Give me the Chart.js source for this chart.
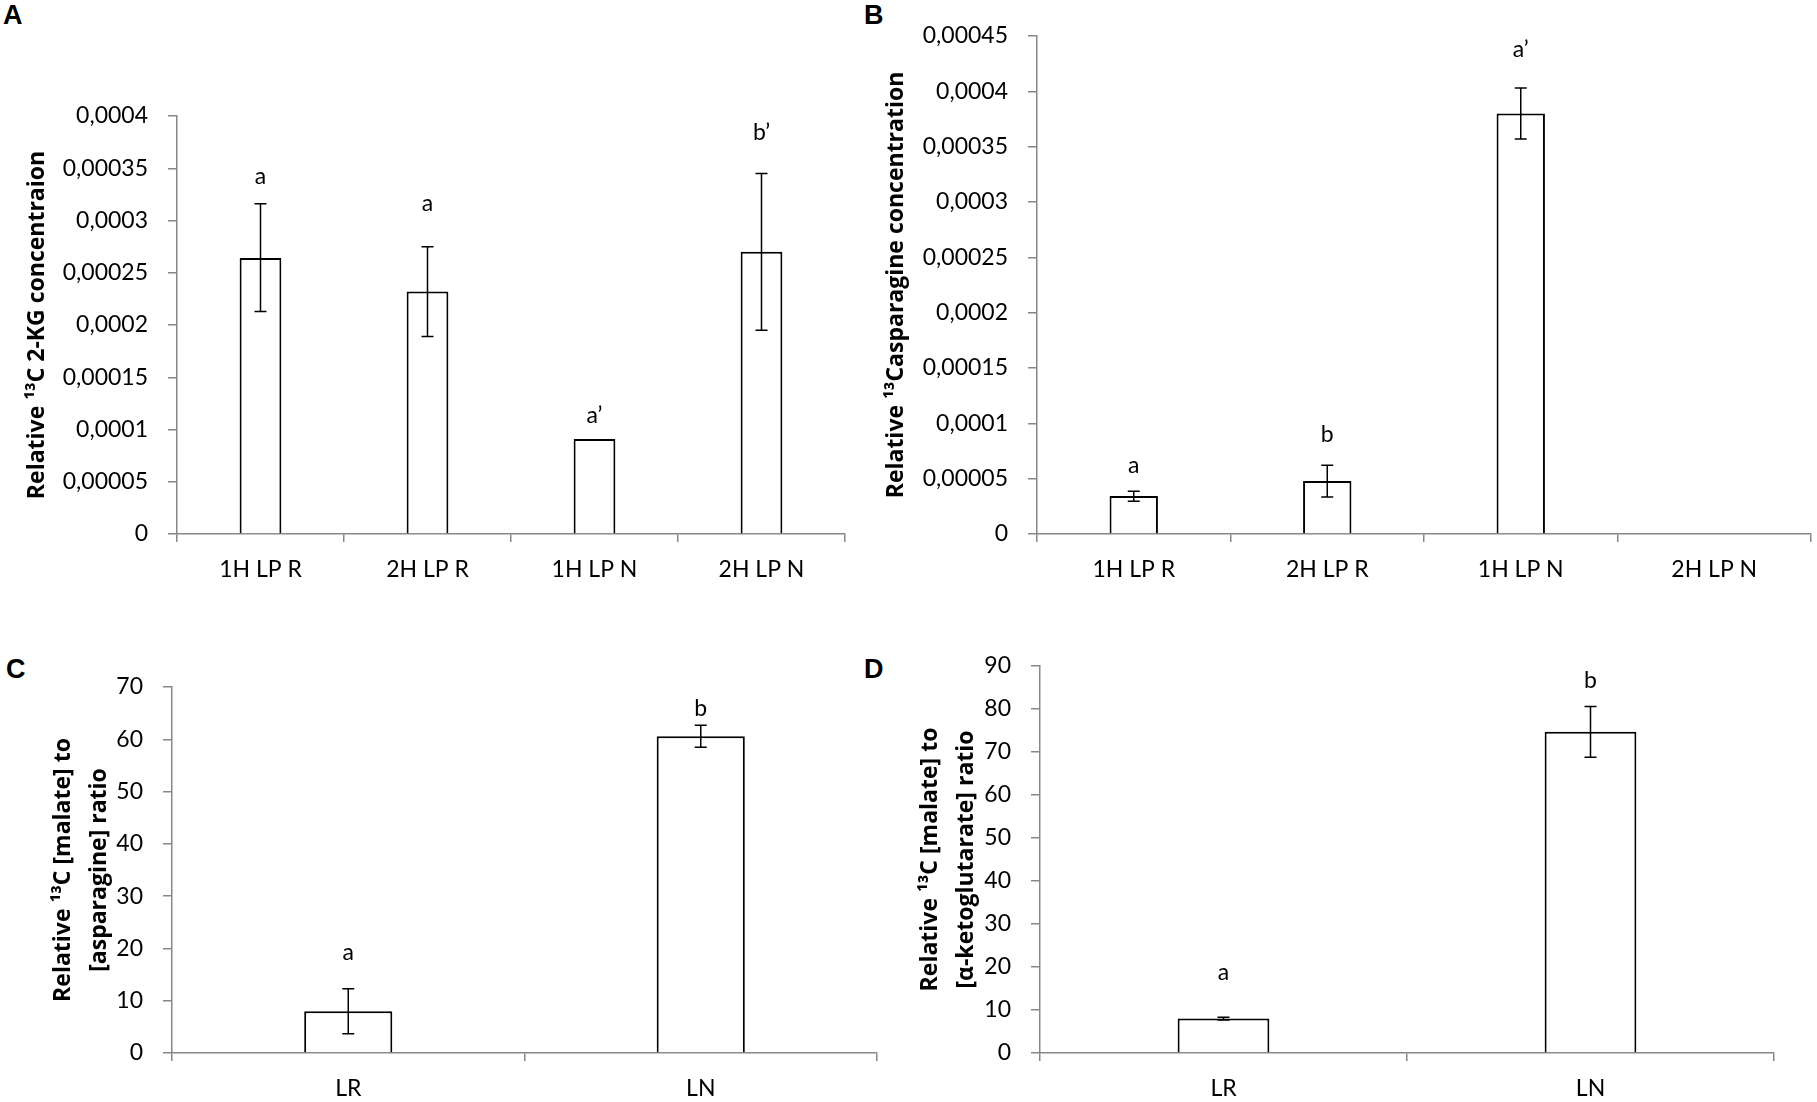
<!DOCTYPE html>
<html>
<head>
<meta charset="utf-8">
<script src="https://cdn.jsdelivr.net/npm/chart.js@4.4.1/dist/chart.umd.min.js"></script>
<style>
  body { margin: 0; background: #fff; width: 1817px; height: 1102px; position: relative; overflow: hidden; }
  canvas { position: absolute; }
  .tag { position: absolute; font: bold 27px "Liberation Sans", Arial, sans-serif; line-height: 1; color: #000; }
</style>
</head>
<body>
<div class="tag" style="left:3px;top:2px">A</div>
<div class="tag" style="left:864px;top:2px">B</div>
<div class="tag" style="left:6px;top:656px">C</div>
<div class="tag" style="left:864px;top:656px">D</div>
<canvas id="chartA" width="860" height="600" style="left:0;top:0"></canvas>
<canvas id="chartB" width="957" height="600" style="left:860px;top:0"></canvas>
<canvas id="chartC" width="900" height="502" style="left:0;top:600px"></canvas>
<canvas id="chartD" width="937" height="502" style="left:880px;top:600px"></canvas>
<script>
// panel A - 13C 2-KG
const catsA = ['1H LP R', '2H LP R', '1H LP N', '2H LP N'];
const valsA = [0.000264, 0.000232, 0.000091, 0.00027];
const lowA = [0.000213, 0.000189, null, 0.000195];
const highA = [0.000316, 0.000275, null, 0.000345];
const lettersA = ['a', 'a', 'a\u2019', 'b\u2019'];
const letterAtA = [0.000342, 0.000316, 0.000113, 0.000384];
const ticksA = ['0', '0,00005', '0,0001', '0,00015', '0,0002', '0,00025', '0,0003', '0,00035', '0,0004'];

// panel B - 13C asparagine
const catsB = ['1H LP R', '2H LP R', '1H LP N', '2H LP N'];
const valsB = [0.0000344, 0.0000479, 0.00038, null];
const lowB = [0.0000296, 0.0000335, 0.000357, null];
const highB = [0.0000386, 0.0000621, 0.000403, null];
const lettersB = ['a', 'b', 'a\u2019', ''];
const letterAtB = [0.0000618, 0.0000894, 0.000438, null];
const ticksB = ['0', '0,00005', '0,0001', '0,00015', '0,0002', '0,00025', '0,0003', '0,00035', '0,0004', '0,00045'];

// panel C - malate / asparagine
const catsC = ['LR', 'LN'];
const valsC = [8.0, 60.6];
const lowC = [3.7, 58.5];
const highC = [12.3, 62.7];
const lettersC = ['a', 'b'];
const letterAtC = [19.3, 65.8];
const ticksC = ['0', '10', '20', '30', '40', '50', '60', '70'];

// panel D - malate / alpha-ketoglutarate
const catsD = ['LR', 'LN'];
const valsD = [8.0, 74.7];
const lowD = [7.7, 68.8];
const highD = [8.3, 80.6];
const lettersD = ['a', 'b'];
const letterAtD = [18.6, 86.5];
const ticksD = ['0', '10', '20', '30', '40', '50', '60', '70', '80', '90'];

const AXIS = '#878787';
const TICK_FONT = { family: 'Lato', size: 23 };

// error bars + significance letters
const errorBars = {
  id: 'errorBars',
  afterDatasetsDraw(chart, args, opts) {
    const ctx = chart.ctx;
    const y = chart.scales.y;
    const meta = chart.getDatasetMeta(0);
    ctx.save();
    ctx.strokeStyle = '#000';
    ctx.lineWidth = 1.5;
    opts.low.forEach((lo, i) => {
      if (lo == null) return;
      const px = meta.data[i].x;
      const y1 = y.getPixelForValue(lo);
      const y2 = y.getPixelForValue(opts.high[i]);
      ctx.beginPath();
      ctx.moveTo(px, y1); ctx.lineTo(px, y2);
      ctx.moveTo(px - 6, y1); ctx.lineTo(px + 6, y1);
      ctx.moveTo(px - 6, y2); ctx.lineTo(px + 6, y2);
      ctx.stroke();
    });
    ctx.fillStyle = '#000';
    ctx.font = '23px Lato';
    ctx.textAlign = 'center';
    ctx.textBaseline = 'middle';
    opts.letters.forEach((t, i) => {
      if (!t) return;
      ctx.fillText(t, meta.data[i].x, y.getPixelForValue(opts.at[i]));
    });
    ctx.restore();
  }
};

function makeChart(id, p) {
  const yTicks = p.ticks.map(t => parseFloat(t.replace(',', '.')));
  return new Chart(document.getElementById(id), {
    type: 'bar',
    data: {
      labels: p.cats,
      datasets: [{
        data: p.vals,
        backgroundColor: '#fff',
        borderColor: '#000',
        borderWidth: 2,
        barPercentage: 0.25,
        categoryPercentage: 1
      }]
    },
    options: {
      responsive: false,
      animation: false,
      devicePixelRatio: 1,
      layout: { padding: { top: p.top, right: p.right, left: 0, bottom: 0 } },
      plugins: {
        legend: { display: false },
        tooltip: { enabled: false },
        errorBars: { low: p.low, high: p.high, letters: p.letters, at: p.at }
      },
      scales: {
        x: {
          z: 1,
          grid: { drawOnChartArea: false, color: AXIS, tickLength: 8, lineWidth: 1.5 },
          border: { color: AXIS, width: 1.5 },
          ticks: { color: '#000', font: TICK_FONT, padding: 14 },
          afterFit: s => { s.height = p.xh; }
        },
        y: {
          min: 0,
          max: yTicks[yTicks.length - 1],
          afterBuildTicks: s => { s.ticks = yTicks.map(v => ({ value: v })); },
          grid: { drawOnChartArea: false, color: AXIS, tickLength: 9, lineWidth: 1.5 },
          border: { color: AXIS, width: 1.5 },
          ticks: { color: '#000', font: TICK_FONT, padding: 20, callback: (v, i) => p.ticks[i] },
          title: {
            display: true,
            text: p.title,
            color: '#000',
            font: { family: 'Open Sans', weight: 'bold', size: 23, lineHeight: p.lh },
            padding: { top: p.tpad, bottom: 0 }
          },
          afterFit: s => { s.width = p.yw; }
        }
      }
    },
    plugins: [errorBars]
  });
}

makeChart('chartA', {
  cats: catsA, vals: valsA, low: lowA, high: highA, letters: lettersA, at: letterAtA, ticks: ticksA,
  title: 'Relative \u00b9\u00b3C 2-KG concentraion',
  top: 116, right: 15, xh: 66, yw: 177, lh: 1.2, tpad: 24
});
makeChart('chartB', {
  cats: catsB, vals: valsB, low: lowB, high: highB, letters: lettersB, at: letterAtB, ticks: ticksB,
  title: 'Relative \u00b9\u00b3Casparagine concentration',
  top: 36, right: 6, xh: 66, yw: 177, lh: 1.2, tpad: 23
});
makeChart('chartC', {
  cats: catsC, vals: valsC, low: lowC, high: highC, letters: lettersC, at: letterAtC, ticks: ticksC,
  title: ['Relative \u00b9\u00b3C [malate] to', '[asparagine] ratio'],
  top: 87, right: 23, xh: 49, yw: 172, lh: '36px', tpad: 45
});
makeChart('chartD', {
  cats: catsD, vals: valsD, low: lowD, high: highD, letters: lettersD, at: letterAtD, ticks: ticksD,
  title: ['Relative \u00b9\u00b3C [malate] to', '[\u03b1-ketoglutarate] ratio'],
  top: 66, right: 43, xh: 49, yw: 160, lh: '36px', tpad: 32
});
</script>
</body>
</html>
